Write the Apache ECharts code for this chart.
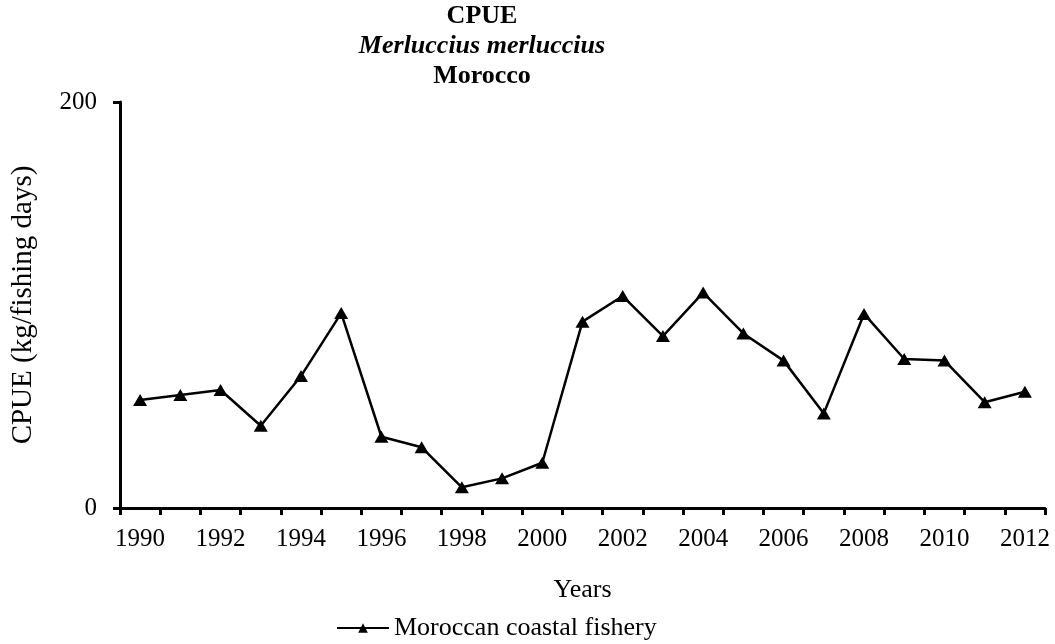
<!DOCTYPE html>
<html>
<head>
<meta charset="utf-8">
<script src="https://cdn.jsdelivr.net/npm/echarts@6/dist/echarts.min.js"></script>
<style>
    html, body { margin: 0; padding: 0; background: #fff; }
    #chart { width: 1055px; height: 644px; }
</style>
</head>
<body>
<div id="chart"></div>
<script>
const years = ["1990", "1991", "1992", "1993", "1994", "1995", "1996", "1997", "1998", "1999", "2000", "2001",
    "2002", "2003", "2004", "2005", "2006", "2007", "2008", "2009", "2010", "2011", "2012"];
const cpue = [53.2, 55.7, 58.1, 40.5, 65.0, 96.0, 35.1, 29.9, 10.2, 14.6, 22.3, 91.8,
    104.4, 84.7, 106.1, 86.0, 72.6, 46.6, 95.6, 73.4, 72.6, 52.1, 57.3];
const yTicks = [0, 200];

const FONT = "Liberation Serif";
const FS = 25;
const FS_TEXT = 26;

const chart = echarts.init(document.getElementById("chart"));
chart.setOption({
    backgroundColor: "#fff",
    animation: false,
    title: {
        text: "{b|CPUE}\n{i|Merluccius merluccius}\n{b|Morocco}",
        left: 482,
        top: 1,
        padding: 0,
        textAlign: "center",
        textStyle: {
            rich: {
                b: { fontFamily: FONT, fontWeight: "bold", fontSize: FS_TEXT, color: "#000", lineHeight: 30, align: "center" },
                i: { fontFamily: FONT, fontWeight: "bold", fontStyle: "italic", fontSize: FS_TEXT, color: "#000", lineHeight: 30, align: "center" },
            },
        },
    },
    legend: {
        left: 331,
        top: 610,
        itemWidth: 52,
        itemHeight: 12,
        itemGap: 4,
        textStyle: { fontFamily: FONT, fontSize: FS_TEXT, color: "#000" },
        data: ["Moroccan coastal fishery"],
    },
    grid: { left: 120, right: 10, top: 102, bottom: 136, outerBoundsMode: "none" },
    xAxis: {
        type: "category",
        data: years,
        name: "Years",
        nameLocation: "middle",
        nameGap: 69,
        nameTextStyle: { fontFamily: FONT, fontSize: FS_TEXT, color: "#000" },
        axisLine: { lineStyle: { color: "#000", width: 3 } },
        axisTick: { show: true, interval: 0, length: 7, lineStyle: { color: "#000", width: 3 } },
        axisLabel: { interval: 1, fontFamily: FONT, fontSize: FS, color: "#000", margin: 19 },
    },
    yAxis: {
        type: "value",
        min: yTicks[0],
        max: yTicks[1],
        interval: yTicks[1] - yTicks[0],
        name: "CPUE (kg/fishing days)",
        nameLocation: "middle",
        nameGap: 82,
        nameTextStyle: { fontFamily: FONT, fontSize: 29, color: "#000" },
        axisLine: { show: true, lineStyle: { color: "#000", width: 3 } },
        axisTick: { show: true, length: 7, lineStyle: { color: "#000", width: 3 } },
        axisLabel: { fontFamily: FONT, fontSize: FS, color: "#000", margin: 23 },
        splitLine: { show: false },
    },
    series: [{
        name: "Moroccan coastal fishery",
        type: "line",
        data: cpue,
        symbol: "triangle",
        symbolSize: [14, 12],
        color: "#000",
        lineStyle: { color: "#000", width: 2.5 },
        itemStyle: { color: "#000" },
    }],
});
</script>
</body>
</html>
